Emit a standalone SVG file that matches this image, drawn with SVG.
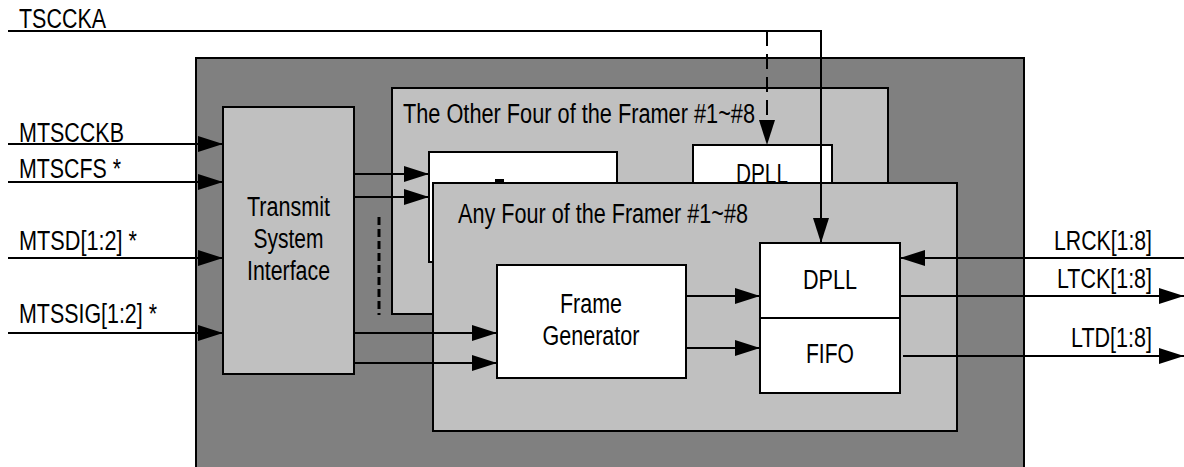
<svg xmlns="http://www.w3.org/2000/svg" width="1184" height="467" viewBox="0 0 1184 467">
<style>
.t{font-family:"Liberation Sans",Arial,sans-serif;font-size:27px;fill:#000}
.m{text-anchor:middle}
.e{text-anchor:end}
.box{stroke:#000;stroke-width:2}
.dark{fill:#808080}
.light{fill:#c0c0c0}
.white{fill:#fff}
.ln{stroke:#000;stroke-width:2;fill:none}
.arr{marker-end:url(#ah)}
</style>
<defs>
<marker id="ah" markerUnits="userSpaceOnUse" markerWidth="26" markerHeight="18" refX="25" refY="8" orient="auto">
<path d="M0,0 L25,8 L0,16 z" fill="#000"/>
</marker>
</defs>
<rect width="1184" height="467" fill="#fff"/>
<g id="chip"><rect class="box dark" x="196" y="58" width="828" height="420"/></g>
<g id="tsi">
<rect class="box light" x="223" y="107" width="131" height="267"/>
<text class="t m" x="288.5" y="216" textLength="83" lengthAdjust="spacingAndGlyphs">Transmit</text>
<text class="t m" x="288.5" y="248" textLength="70" lengthAdjust="spacingAndGlyphs">System</text>
<text class="t m" x="288.5" y="280" textLength="83" lengthAdjust="spacingAndGlyphs">Interface</text>
</g>
<g id="other-four">
<rect class="box light" x="392" y="88" width="496" height="226"/>
<text class="t" x="403" y="123" textLength="352" lengthAdjust="spacingAndGlyphs">The Other Four of the Framer #1~#8</text>
</g>
<g id="other-frame-generator">
<rect class="box white" x="429" y="152" width="188" height="110"/>
<rect x="495" y="179" width="9" height="3" fill="#000"/>
</g>
<g id="other-dpll">
<rect class="box white" x="693" y="145" width="139" height="60"/>
<text class="t m" x="762" y="183" textLength="52" lengthAdjust="spacingAndGlyphs">DPLL</text>
</g>
<g id="any-four">
<rect class="box light" x="433" y="183" width="524" height="248"/>
<text class="t" x="458" y="223" textLength="290" lengthAdjust="spacingAndGlyphs">Any Four of the Framer #1~#8</text>
</g>
<g id="frame-generator">
<rect class="box white" x="497" y="265" width="189" height="113"/>
<text class="t m" x="591" y="313" textLength="62" lengthAdjust="spacingAndGlyphs">Frame</text>
<text class="t m" x="591" y="345" textLength="97" lengthAdjust="spacingAndGlyphs">Generator</text>
</g>
<g id="dpll">
<rect class="box white" x="760" y="243" width="140" height="75"/>
<text class="t m" x="830" y="289" textLength="54" lengthAdjust="spacingAndGlyphs">DPLL</text>
</g>
<g id="fifo">
<rect class="box white" x="760" y="318" width="140" height="75"/>
<text class="t m" x="830" y="363" textLength="48" lengthAdjust="spacingAndGlyphs">FIFO</text>
</g>
<g id="connectors">
<path class="ln" d="M8,31 H821 V243" marker-end="url(#ah)"/>
<path class="ln" d="M767,31 V145" stroke-dasharray="15 8" marker-end="url(#ah)"/>
<path class="ln arr" d="M8,144 H223"/>
<path class="ln arr" d="M8,182 H223"/>
<path class="ln arr" d="M8,258 H223"/>
<path class="ln arr" d="M8,333 H223"/>
<path class="ln arr" d="M354,174 H429"/>
<path class="ln arr" d="M354,197 H429"/>
<path class="ln arr" d="M354,333 H497"/>
<path class="ln arr" d="M354,363 H497"/>
<path class="ln arr" d="M686,296 H760"/>
<path class="ln arr" d="M686,348 H760"/>
<path class="ln arr" d="M1184,258 H900"/>
<path class="ln arr" d="M900,296 H1184"/>
<path class="ln arr" d="M903,356 H1184"/>
<path d="M379,217 V315" stroke="#000" stroke-width="3" stroke-dasharray="8 4" fill="none"/>
</g>
<g id="labels">
<text class="t" x="19" y="28" textLength="87" lengthAdjust="spacingAndGlyphs">TSCCKA</text>
<text class="t" x="19" y="142" textLength="105" lengthAdjust="spacingAndGlyphs">MTSCCKB</text>
<text class="t" x="19" y="178" textLength="102" lengthAdjust="spacingAndGlyphs">MTSCFS *</text>
<text class="t" x="19" y="250" textLength="118" lengthAdjust="spacingAndGlyphs">MTSD[1:2] *</text>
<text class="t" x="19" y="323" textLength="138" lengthAdjust="spacingAndGlyphs">MTSSIG[1:2] *</text>
<text class="t e" x="1152" y="250" textLength="98" lengthAdjust="spacingAndGlyphs">LRCK[1:8]</text>
<text class="t e" x="1152" y="288" textLength="95" lengthAdjust="spacingAndGlyphs">LTCK[1:8]</text>
<text class="t e" x="1152" y="347" textLength="81" lengthAdjust="spacingAndGlyphs">LTD[1:8]</text>
</g>
</svg>
